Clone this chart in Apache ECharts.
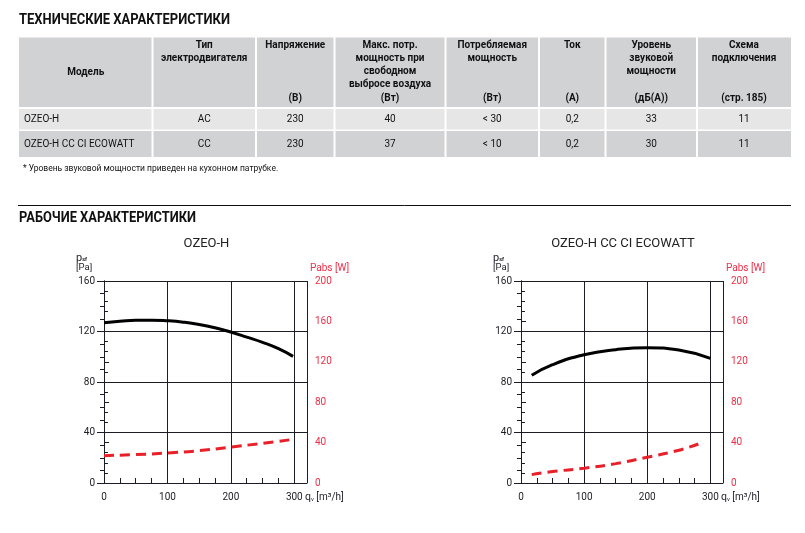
<!DOCTYPE html>
<html>
<head>
<meta charset="utf-8">
<script src="https://cdn.jsdelivr.net/npm/echarts@6/dist/echarts.min.js"></script>
<style>
html, body { margin: 0; padding: 0; background: #fff; }
#main { width: 805px; height: 533px; }
</style>
</head>
<body>
<div id="main"></div>
<script>
// --- table data
var tableHead = [
    ['Модель'],
    ['Тип', 'электродвигателя'],
    ['Напряжение'],
    ['Макс. потр.', 'мощность при', 'свободном', 'выбросе воздуха'],
    ['Потребляемая', 'мощность'],
    ['Ток'],
    ['Уровень', 'звуковой', 'мощности'],
    ['Схема', 'подключения']
];
var tableUnits = ['', '', '(В)', '(Вт)', '(Вт)', '(А)', '(дБ(А))', '(стр. 185)'];
var tableRows = [
    ['OZEO-H', 'AC', '230', '40', '< 30', '0,2', '33', '11'],
    ['OZEO-H CC CI ECOWATT', 'CC', '230', '37', '< 10', '0,2', '30', '11']
];
var footnote = '* Уровень звуковой мощности приведен на кухонном патрубке.';

// --- curves, OZEO-H  (flow m3/h -> pressure Pa / power W)
var flowH = [0, 25, 50, 75, 100, 125, 150, 175, 200, 225, 250, 275, 298];
var pressH = [127, 128.1, 129, 129, 128.5, 127.4, 125.6, 123, 119.6, 115.6, 111.4, 106.4, 100.3];
var powerFlowH = [0, 50, 100, 150, 200, 250, 298];
var powerH = [27.1, 28.1, 29.7, 32, 35.6, 39.3, 43.2];

// --- curves, OZEO-H CC CI ECOWATT
var flowE = [17, 50, 100, 150, 200, 250, 300];
var pressE = [85.3, 93.7, 101.6, 105.6, 107.2, 105.3, 98.7];
var powerFlowE = [17, 50, 100, 150, 200, 250, 281];
var powerE = [8.3, 11.3, 14.6, 19.2, 25.5, 32.4, 38.6];

var chartTitles = ['OZEO-H', 'OZEO-H CC CI ECOWATT'];

const ink = '#1c1c24';
const red = '#ee2f48';
const font = 'Roboto, "Noto Sans", sans-serif';

function zip(xs, ys) {
    return xs.map(function (x, i) { return [x, ys[i]]; });
}

// plot boxes (left, right, top, bottom) in px
var grids = [
    { l: 104, r: 307, t: 281, b: 483 },
    { l: 521, r: 723, t: 281, b: 483 }
];

// section headings use a condensed bold face in the original, squeeze to width
var measureCtx = document.createElement('canvas').getContext('2d');
function heading(text, x, y, size, width) {
    measureCtx.font = 'bold ' + size + 'px ' + font;
    var w = measureCtx.measureText(text).width;
    return {
        type: 'text', x: x, y: y, scaleX: width / w, originX: 0,
        style: { text: text, fill: '#111', fontSize: size, fontWeight: 'bold', fontFamily: font, verticalAlign: 'middle' }
    };
}

// table drawn with graphic elements
var colEdges = [19, 152.5, 256, 334.5, 445.5, 539, 605.5, 697, 791];
var rowBands = [[37.5, 107], [109, 129.5], [131, 157]];
var fills = ['#d1d2d4', '#e6e6e7', '#d1d2d4'];
var graphics = [];

graphics.push(heading('ТЕХНИЧЕСКИЕ ХАРАКТЕРИСТИКИ', 19, 20.5, 15, 211));

rowBands.forEach(function (band, r) {
    for (var c = 0; c < 8; c++) {
        graphics.push({
            type: 'rect',
            shape: { x: colEdges[c] + (c ? 1 : 0), y: band[0], width: colEdges[c + 1] - colEdges[c] - (c ? 1 : 0) - (c < 7 ? 1 : 0), height: band[1] - band[0] },
            style: { fill: fills[r] }
        });
    }
});

function headText(t, x, y) {
    return { type: 'text', x: x, y: y,
        style: { text: t, fill: '#111', fontSize: 10, fontWeight: 'bold', fontFamily: font, align: 'center', verticalAlign: 'middle' } };
}

tableHead.forEach(function (lines, c) {
    var cx = (colEdges[c] + colEdges[c + 1]) / 2;
    if (c === 0) {
        graphics.push(headText(lines[0], cx, 72));
        return;
    }
    lines.forEach(function (t, i) {
        graphics.push(headText(t, cx, 45.5 + i * 13));
    });
    if (tableUnits[c]) {
        graphics.push(headText(tableUnits[c], cx, 98));
    }
});

tableRows.forEach(function (row, r) {
    var cy = (rowBands[r + 1][0] + rowBands[r + 1][1]) / 2;
    row.forEach(function (t, c) {
        graphics.push({ type: 'text', x: c === 0 ? 24 : (colEdges[c] + colEdges[c + 1]) / 2, y: cy,
            style: { text: t, fill: '#111', fontSize: 10, fontFamily: font, align: c === 0 ? 'left' : 'center', verticalAlign: 'middle' } });
    });
});

graphics.push({ type: 'text', x: 23, y: 168.5,
    style: { text: footnote, fill: '#111', fontSize: 8.5, fontFamily: font, verticalAlign: 'middle' } });

graphics.push({ type: 'line', shape: { x1: 18, y1: 205.5, x2: 791, y2: 205.5 }, style: { stroke: '#111', lineWidth: 1 } });

graphics.push(heading('РАБОЧИЕ ХАРАКТЕРИСТИКИ', 19, 218, 14, 177));

// chart titles and axis names
grids.forEach(function (g, i) {
    graphics.push({ type: 'text', x: (g.l + g.r) / 2 + 1, y: 244,
        style: { text: chartTitles[i], fill: '#222', fontSize: 13, fontFamily: font, align: 'center', verticalAlign: 'middle' } });
    graphics.push({ type: 'text', x: g.l - 28, y: g.t - 8,
        style: {
            text: '{p|p}{s|sf}\n{u|[Pa]}', fontFamily: font, verticalAlign: 'bottom', align: 'left',
            rich: {
                p: { fontSize: 11, fill: ink, lineHeight: 10, fontFamily: font },
                s: { fontSize: 5.5, fill: ink, fontWeight: 'bold', verticalAlign: 'bottom', lineHeight: 10, fontFamily: font },
                u: { fontSize: 9.5, fill: ink, lineHeight: 10, fontFamily: font }
            }
        } });
    graphics.push({ type: 'text', x: g.r + 3, y: g.t - 13,
        style: { text: 'Pabs [W]', fill: red, fontSize: 10, fontFamily: font, align: 'left', verticalAlign: 'middle' } });
    graphics.push({ type: 'text', x: g.r - 2, y: g.b + 14,
        style: {
            text: '{q|q}{v|v} [m³/h]', fill: ink, fontSize: 10, fontFamily: font, align: 'left', verticalAlign: 'middle',
            rich: { q: { fontSize: 10.5, fill: ink, fontFamily: font }, v: { fontSize: 6, fill: ink, verticalAlign: 'bottom', fontFamily: font } }
        } });
});

// axes, two per grid in each direction
function xMain(g) {
    return {
        gridIndex: g, type: 'value', min: 0, max: 320, interval: 100, position: 'bottom',
        axisLine: { lineStyle: { color: ink, width: 1 } },
        axisTick: { show: false },
        axisLabel: { showMaxLabel: false, fontSize: 10, color: ink, margin: 9, fontFamily: font },
        splitLine: { show: true, lineStyle: { color: ink, width: 1 } }
    };
}
function xTicks(g) {
    return {
        gridIndex: g, type: 'value', min: 0, max: 320, interval: 25, position: 'bottom',
        axisLine: { show: false },
        axisTick: { show: true, inside: true, length: 5, lineStyle: { color: ink } },
        axisLabel: { show: false },
        splitLine: { show: false }
    };
}
function yLeft(g) {
    return {
        gridIndex: g, type: 'value', min: 0, max: 160, interval: 40, position: 'left',
        axisLine: { show: true, lineStyle: { color: ink, width: 1 } },
        axisTick: { show: true, length: 7, lineStyle: { color: ink } },
        minorTick: { show: true, splitNumber: 4, length: 4, lineStyle: { color: ink } },
        axisLabel: { fontSize: 10, color: ink, margin: 9, fontFamily: font },
        splitLine: { show: true, lineStyle: { color: ink, width: 1 } }
    };
}
function yRight(g) {
    return {
        gridIndex: g, type: 'value', min: 0, max: 200, interval: 40, position: 'right',
        axisLine: { show: true, lineStyle: { color: ink, width: 1 } },
        axisTick: { show: true, length: 5, lineStyle: { color: ink } },
        minorTick: { show: true, splitNumber: 4, length: 4, lineStyle: { color: ink } },
        axisLabel: { fontSize: 10, color: red, margin: 8, fontFamily: font },
        splitLine: { show: false }
    };
}

// xAxis 0/2 carry labels, 1/3 only the minor ticks; yAxis 0/2 pressure, 1/3 power
function pressLine(g, data) {
    return {
        type: 'line', xAxisIndex: g * 2, yAxisIndex: g * 2, data: data,
        smooth: true, showSymbol: false, z: 5,
        lineStyle: { color: '#000', width: 3 }
    };
}
function powerLine(g, data) {
    return {
        type: 'line', xAxisIndex: g * 2, yAxisIndex: g * 2 + 1, data: data,
        smooth: true, showSymbol: false, z: 5,
        lineStyle: { color: '#e8202a', width: 3, type: [10, 6] }
    };
}

var myChart = echarts.init(document.getElementById('main'));

var option = {
    backgroundColor: '#fff',
    animation: false,
    graphic: graphics,
    grid: grids.map(function (g) {
        return { left: g.l, right: 805 - g.r, top: g.t, bottom: 533 - g.b, outerBoundsMode: 'none' };
    }),
    xAxis: [xMain(0), xTicks(0), xMain(1), xTicks(1)],
    yAxis: [yLeft(0), yRight(0), yLeft(1), yRight(1)],
    series: [
        pressLine(0, zip(flowH, pressH)),
        powerLine(0, zip(powerFlowH, powerH)),
        pressLine(1, zip(flowE, pressE)),
        powerLine(1, zip(powerFlowE, powerE))
    ]
};

myChart.setOption(option);
</script>
</body>
</html>
